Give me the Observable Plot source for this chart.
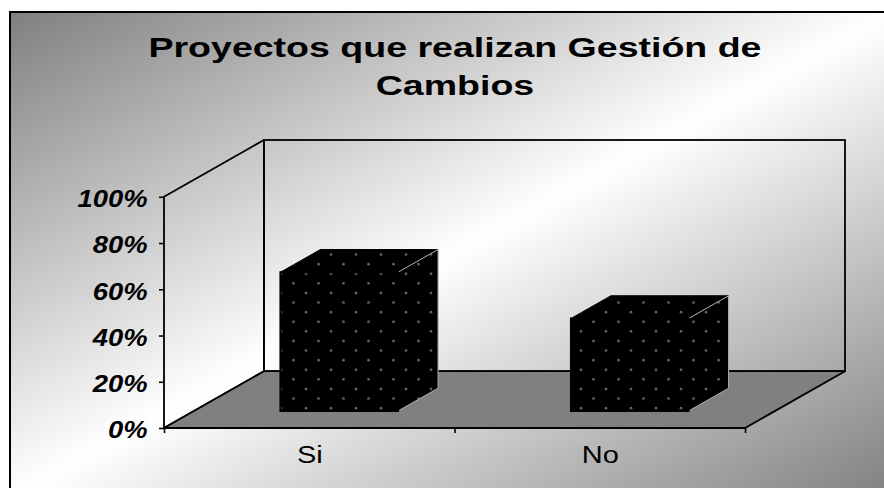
<!DOCTYPE html>
<html>
<head>
<meta charset="utf-8">
<script src="https://cdn.jsdelivr.net/npm/d3@7"></script>
<script src="https://cdn.jsdelivr.net/npm/@observablehq/plot@0.6"></script>
<style>
  html, body { margin: 0; padding: 0; background: white; overflow: hidden; }
  #wrap { position: relative; width: 884px; height: 488px; overflow: hidden; }
  #frame {
    position: absolute; left: 9px; top: 11px; width: 884px; height: 488px;
    box-sizing: border-box; border: 2.5px solid black;
    background: linear-gradient(to bottom right, #808080 0%, #ffffff 50%, #808080 100%);
  }
  #title {
    position: absolute; left: 0; top: 29px; width: 910px; text-align: center;
    font: bold 28px/38px "Liberation Sans", Arial, sans-serif; color: black;
    transform: scaleX(1.34); transform-origin: 455px 0;
  }
  #chart { position: absolute; left: 0; top: 0; }
</style>
</head>
<body>
<div id="wrap">
  <div id="frame"></div>
  <div id="title">Proyectos que realizan Gestión de<br>Cambios</div>
  <div id="chart"></div>
</div>
<script>
// ---- data ----
const categories = ["Si", "No"];
const values = [0.60, 0.40];
const yTicks = [0, 0.2, 0.4, 0.6, 0.8, 1.0];
const xTicks = [0, 1, 2];

// ---- 3D oblique projection (depth expressed in data units) ----
const DX = 0.344;   // horizontal shift for full depth (x units)
const DY = 0.2457;  // vertical shift for full depth (y units)
const Z0 = 0.3, Z1 = 0.7; // bar depth span
const BW = 0.405;   // bar width as fraction of category band
const n = categories.length;
const yMax = d3.max(yTicks);

const bars = categories.map((c, i) => ({c, i, v: values[i], x0: i + 0.5 - BW / 2, x1: i + 0.5 + BW / 2}));
const topRows = bars.flatMap(b => [
  {bar: b.i, y: b.v + Z0 * DY, x1: b.x0 + Z0 * DX, x2: b.x1 + Z0 * DX},
  {bar: b.i, y: b.v + Z1 * DY, x1: b.x0 + Z1 * DX, x2: b.x1 + Z1 * DX}
]);
const sideRows = bars.flatMap(b => [
  {bar: b.i, x: b.x1 + Z0 * DX, y1: Z0 * DY, y2: b.v + Z0 * DY},
  {bar: b.i, x: b.x1 + Z1 * DX, y1: Z1 * DY, y2: b.v + Z1 * DY}
]);
const floorRows = [
  {y: 0, x1: 0, x2: n},
  {y: DY, x1: DX, x2: n + DX}
];
const wallRows = [
  {x: 0, y1: 0, y2: yMax},
  {x: DX, y1: DY, y2: yMax + DY}
];

const chart = Plot.plot({
  width: 884,
  height: 488,
  marginLeft: 164,
  marginRight: 39,
  marginTop: 140,
  marginBottom: 60,
  style: {background: "transparent", overflow: "visible", fontFamily: "'Liberation Sans', Arial, sans-serif", color: "black"},
  x: {type: "linear", domain: [0, n + DX], label: null},
  y: {type: "linear", domain: [0, yMax + DY], label: null},
  marks: [
    // side wall
    Plot.areaY(wallRows, {x: "x", y1: "y1", y2: "y2", fill: "none", stroke: "black", strokeWidth: 1.8}),
    // back wall
    Plot.rect([{}], {x1: () => DX, x2: () => n + DX, y1: () => DY, y2: () => yMax + DY, fill: "none", stroke: "black", strokeWidth: 1.8}),
    // floor
    Plot.areaX(floorRows, {y: "y", x1: "x1", x2: "x2", fill: "#808080", stroke: "black", strokeWidth: 1.8}),
    // bar tops
    Plot.areaX(topRows, {y: "y", x1: "x1", x2: "x2", z: "bar", fill: "url(#dots)", stroke: "black", strokeWidth: 1}),
    // bar sides
    Plot.areaY(sideRows, {x: "x", y1: "y1", y2: "y2", z: "bar", fill: "url(#dots)", stroke: "#b0b0b0", strokeWidth: 1}),
    // bar fronts
    Plot.rect(bars, {x1: d => d.x0 + Z0 * DX, x2: d => d.x1 + Z0 * DX, y1: () => Z0 * DY, y2: d => d.v + Z0 * DY, fill: "url(#dots)", stroke: "black", strokeWidth: 2}),
    // axes
    Plot.axisY(yTicks, {tickSize: 5, tickFormat: () => "", strokeWidth: 1.6}),
    Plot.axisX(xTicks, {tickSize: 5, tickFormat: () => "", strokeWidth: 1.6}),
    Plot.text(yTicks, {x: () => 0, y: d => d, text: d => d3.format(".0%")(d), textAnchor: "end", dx: -17, dy: 2.5, fontSize: 23, fontWeight: "bold", fontStyle: "italic", className: "ylab"}),
    Plot.text(bars, {x: d => d.i + 0.5, y: () => 0, text: "c", dy: 27.5, fontSize: 23, className: "xlab"})
  ]
});

d3.select(chart).insert("defs", ":first-child").html(
  `<pattern id="dots" patternUnits="userSpaceOnUse" width="25" height="19.2">
     <rect width="25" height="19.2" fill="black"/>
     <circle cx="6" cy="5" r="1.3" fill="#666"/>
     <circle cx="18.5" cy="14.6" r="1.3" fill="#666"/>
   </pattern>`
);

document.getElementById("chart").appendChild(chart);

function stretch(sel, k) {
  d3.select(chart).selectAll(sel).each(function () {
    const len = this.getComputedTextLength();
    this.setAttribute("textLength", len * k);
    this.setAttribute("lengthAdjust", "spacingAndGlyphs");
  });
}
stretch(".ylab text", 1.19);
stretch(".xlab text", 1.26);
</script>
</body>
</html>
